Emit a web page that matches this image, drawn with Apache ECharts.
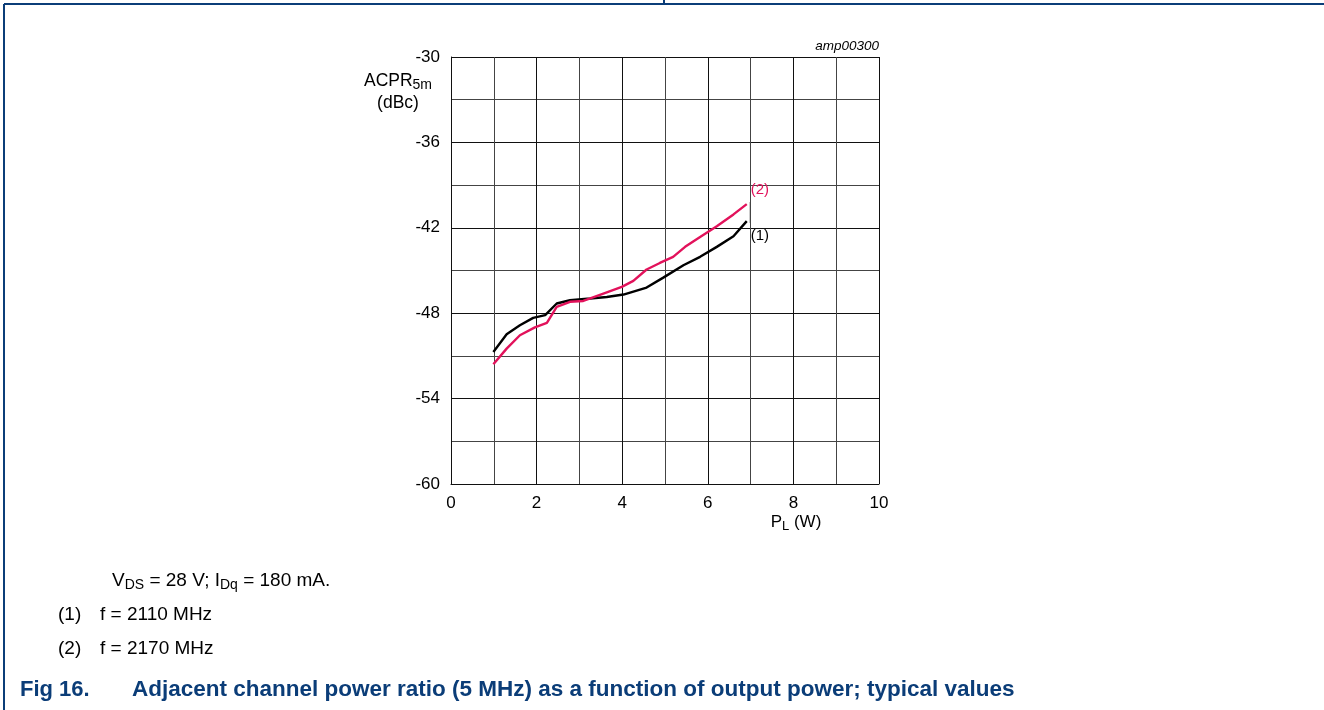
<!DOCTYPE html>
<html>
<head>
<meta charset="utf-8">
<script src="https://cdn.jsdelivr.net/npm/echarts@6/dist/echarts.min.js"></script>
<style>
  html, body { margin: 0; padding: 0; background: #fff; }
  #fig { width: 1324px; height: 710px; }
</style>
</head>
<body>
<div id="fig"></div>
<script>
// ACPR (dBc) vs output power PL (W)
var pl1 = [0.99, 1.30, 1.61, 1.92, 2.20, 2.47, 2.78, 3.25, 3.64, 4.03, 4.57, 4.96, 5.43, 5.82, 6.21, 6.60, 6.91];
var acpr1 = [-50.72, -49.48, -48.85, -48.33, -48.14, -47.32, -47.09, -46.97, -46.86, -46.69, -46.2, -45.5, -44.63, -44.04, -43.34, -42.59, -41.53];
var pl2 = [0.99, 1.30, 1.61, 1.96, 2.24, 2.47, 2.78, 3.09, 3.56, 3.99, 4.26, 4.57, 4.88, 5.19, 5.47, 5.82, 6.21, 6.60, 6.91];
var acpr2 = [-51.59, -50.49, -49.55, -49.0, -48.68, -47.56, -47.2, -47.14, -46.62, -46.15, -45.73, -44.93, -44.47, -44.04, -43.34, -42.64, -41.89, -41.06, -40.34];
var seriesNames = ["(1)", "(2)"];

var font = "Liberation Sans, Arial, sans-serif";
var navy = "#0b3d78";

function pairs(xs, ys) {
  var res = [];
  for (var i = 0; i < xs.length; i++) {
    res.push([xs[i], ys[i]]);
  }
  return res;
}

var myChart = echarts.init(document.getElementById("fig"));
var option = {
  animation: false,
  grid: { left: 451, top: 57, width: 428, height: 427 },
  xAxis: {
    type: "value",
    min: 0,
    max: 10,
    interval: 1,
    axisLine: { show: true, lineStyle: { color: "#111", width: 1 } },
    axisTick: { show: false },
    axisLabel: {
      color: "#000",
      fontFamily: font,
      fontSize: 17,
      margin: 11,
      formatter: function (v) { return v % 2 === 0 ? String(v) : ""; }
    },
    splitLine: { show: true, lineStyle: { color: ["#111", "#444"], width: 1 } }
  },
  yAxis: {
    type: "value",
    min: -60,
    max: -30,
    interval: 3,
    axisLine: { show: true, lineStyle: { color: "#111", width: 1 } },
    axisTick: { show: false },
    axisLabel: {
      color: "#000",
      fontFamily: font,
      fontSize: 17,
      margin: 11,
      formatter: function (v) { return v % 6 === 0 ? String(v) : ""; }
    },
    splitLine: { show: true, lineStyle: { color: ["#111", "#444"], width: 1 } }
  },
  series: [
    {
      name: seriesNames[0],
      type: "line",
      data: pairs(pl1, acpr1),
      showSymbol: false,
      lineStyle: { color: "#000", width: 2.4 },
      endLabel: {
        show: true,
        formatter: seriesNames[0],
        color: "#000",
        fontFamily: font,
        fontSize: 15,
        offset: [-4, 15]
      }
    },
    {
      name: seriesNames[1],
      type: "line",
      data: pairs(pl2, acpr2),
      showSymbol: false,
      lineStyle: { color: "#e2125b", width: 2.4 },
      endLabel: {
        show: true,
        formatter: seriesNames[1],
        color: "#e2125b",
        fontFamily: font,
        fontSize: 15,
        offset: [-4, -14]
      }
    }
  ],
  graphic: [
    // page frame
    { type: "line", shape: { x1: 4, y1: 4, x2: 1324, y2: 4 }, style: { stroke: navy, lineWidth: 2 } },
    { type: "line", shape: { x1: 4, y1: 4, x2: 4, y2: 710 }, style: { stroke: navy, lineWidth: 2 } },
    { type: "line", shape: { x1: 664, y1: 0, x2: 664, y2: 4 }, style: { stroke: navy, lineWidth: 2 } },
    // label leader
    { type: "line", shape: { x1: 750, y1: 202, x2: 750, y2: 223 }, style: { stroke: "#999", lineWidth: 1 } },
    // code
    {
      type: "text", x: 879, y: 46,
      style: { text: "amp00300", fill: "#000", font: "italic 13.5px " + font, align: "right", verticalAlign: "middle" }
    },
    // y axis name
    {
      type: "text", x: 398, y: 92,
      style: {
        text: "{a|ACPR}{s|5m}\n{a|(dBc)}",
        align: "center",
        verticalAlign: "middle",
        rich: {
          a: { fontFamily: font, fontSize: 17.5, fill: "#000", lineHeight: 22 },
          s: { fontFamily: font, fontSize: 14, fill: "#000", padding: [9, 0, 0, 0], lineHeight: 22 }
        }
      }
    },
    // x axis name
    {
      type: "text", x: 796, y: 522,
      style: {
        text: "{a|P}{s|L}{a| (W)}",
        align: "center",
        verticalAlign: "middle",
        rich: {
          a: { fontFamily: font, fontSize: 17, fill: "#000" },
          s: { fontFamily: font, fontSize: 13, fill: "#000", padding: [8, 0, 0, 0] }
        }
      }
    },
    // conditions
    {
      type: "text", x: 112, y: 581,
      style: {
        text: "{a|V}{s|DS}{a| = 28 V; I}{s|Dq}{a| = 180 mA.}",
        verticalAlign: "middle",
        rich: {
          a: { fontFamily: font, fontSize: 19, fill: "#000" },
          s: { fontFamily: font, fontSize: 14, fill: "#000", padding: [9, 0, 0, 0] }
        }
      }
    },
    { type: "text", x: 58, y: 615, style: { text: "(1)", fill: "#000", font: "19px " + font, verticalAlign: "middle" } },
    { type: "text", x: 100, y: 615, style: { text: "f = 2110 MHz", fill: "#000", font: "19px " + font, verticalAlign: "middle" } },
    { type: "text", x: 58, y: 649, style: { text: "(2)", fill: "#000", font: "19px " + font, verticalAlign: "middle" } },
    { type: "text", x: 100, y: 649, style: { text: "f = 2170 MHz", fill: "#000", font: "19px " + font, verticalAlign: "middle" } },
    // caption
    { type: "text", x: 20, y: 690, style: { text: "Fig 16.", fill: navy, font: "bold 22px " + font, verticalAlign: "middle" } },
    {
      type: "text", x: 132, y: 690,
      style: {
        text: "Adjacent channel power ratio (5 MHz) as a function of output power; typical values",
        fill: navy, font: "bold 22.5px " + font, verticalAlign: "middle"
      }
    }
  ]
};

myChart.setOption(option);
window.addEventListener("resize", function () {
  myChart.resize();
});
</script>
</body>
</html>
